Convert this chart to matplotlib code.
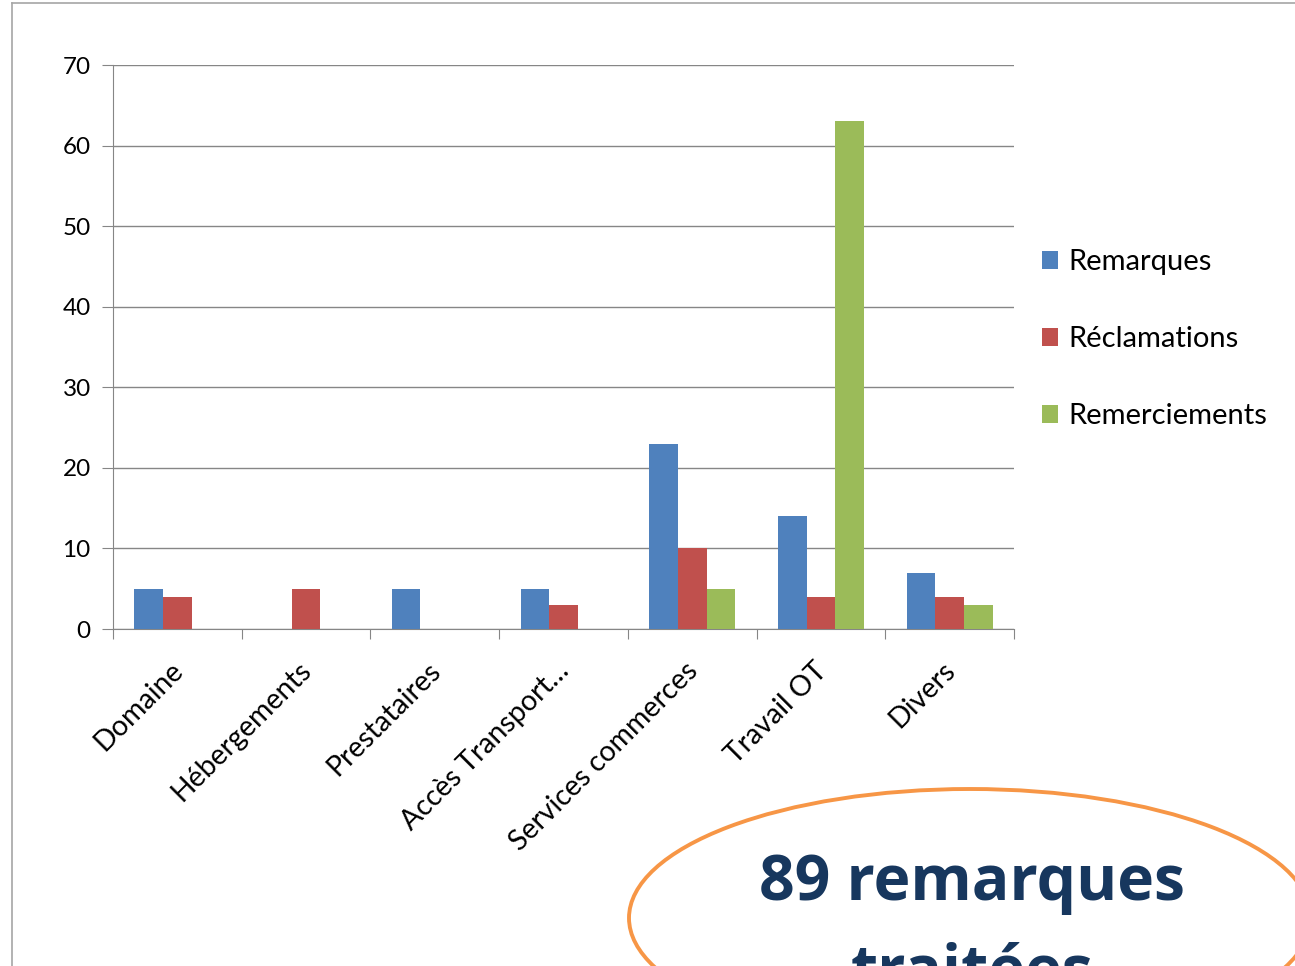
import numpy as np
import matplotlib.pyplot as plt
from matplotlib.patches import Ellipse
from matplotlib.lines import Line2D

plt.rcParams['font.family'] = ['Lato', 'DejaVu Sans']

# data
categories = ['Domaine', 'Hébergements', 'Prestataires', 'Accès Transport…',
              'Services commerces', 'Travail OT', 'Divers']
series_names = ['Remarques', 'Réclamations', 'Remerciements']
remarques = [5, 0, 5, 5, 23, 14, 7]
reclamations = [4, 5, 0, 3, 10, 4, 4]
remerciements = [0, 0, 0, 0, 5, 63, 3]
colors = ['#4F81BD', '#C0504D', '#9BBB59']

W, H = 1295, 966
fig = plt.figure(figsize=(W / 100, H / 100), dpi=100)
ax = fig.add_axes([113 / W, 1 - 629 / H, 901 / W, 564 / H])

x = np.arange(len(categories))
w = 0.222
for i, (vals, name) in enumerate(zip([remarques, reclamations, remerciements], series_names)):
    ax.bar(x + (i - 1) * w, vals, w, color=colors[i], label=name, zorder=3)

ax.set_xlim(-0.5, len(categories) - 0.5)
ax.set_ylim(0, 70)
ax.set_yticks(range(0, 71, 10))
ax.yaxis.grid(True, color='#868686', linewidth=1)
ax.set_axisbelow(True)
for s in ['top', 'right']:
    ax.spines[s].set_visible(False)
for s in ['left', 'bottom']:
    ax.spines[s].set_color('#868686')
ax.tick_params(axis='y', length=8, color='#868686', labelsize=17.5, pad=8)

# category boundary ticks
ax.set_xticks(np.arange(-0.5, len(categories)))
ax.set_xticklabels([])
ax.tick_params(axis='x', length=7, color='#868686')
for xi, lab in zip(x, categories):
    ax.text(xi - 0.06, -3.5, lab, rotation=45, ha='right', va='top',
            rotation_mode='anchor', fontsize=20.5)

fig.legend(loc='upper left', bbox_to_anchor=(1016 / W, 1 - 223 / H),
           frameon=False, fontsize=21, handlelength=0.55, handleheight=0.55,
           handletextpad=0.35, labelspacing=1.75)

# outer border
fig.add_artist(Line2D([12 / W, 12 / W], [0, 1 - 3 / H], transform=fig.transFigure,
                      color='#a6a6a6', linewidth=1.2))
fig.add_artist(Line2D([12 / W, 1], [1 - 3 / H, 1 - 3 / H], transform=fig.transFigure,
                      color='#a6a6a6', linewidth=1.2))

# ellipse callout
ell = Ellipse((970 / W, 1 - 918 / H), 682 / W, 258 / H, transform=fig.transFigure,
              facecolor='white', edgecolor='#F79646', linewidth=2.8)
fig.add_artist(ell)
fig.text(972 / W, 1 - 900 / H, '89 remarques', ha='center', va='baseline',
         fontsize=45, fontweight='bold', color='#17375E', family=['Open Sans', 'DejaVu Sans'])
fig.text(972 / W, 1 - 990 / H, 'traitées', ha='center', va='baseline',
         fontsize=45, fontweight='bold', color='#17375E', family=['Open Sans', 'DejaVu Sans'])

fig.savefig('out.png', dpi=100)
